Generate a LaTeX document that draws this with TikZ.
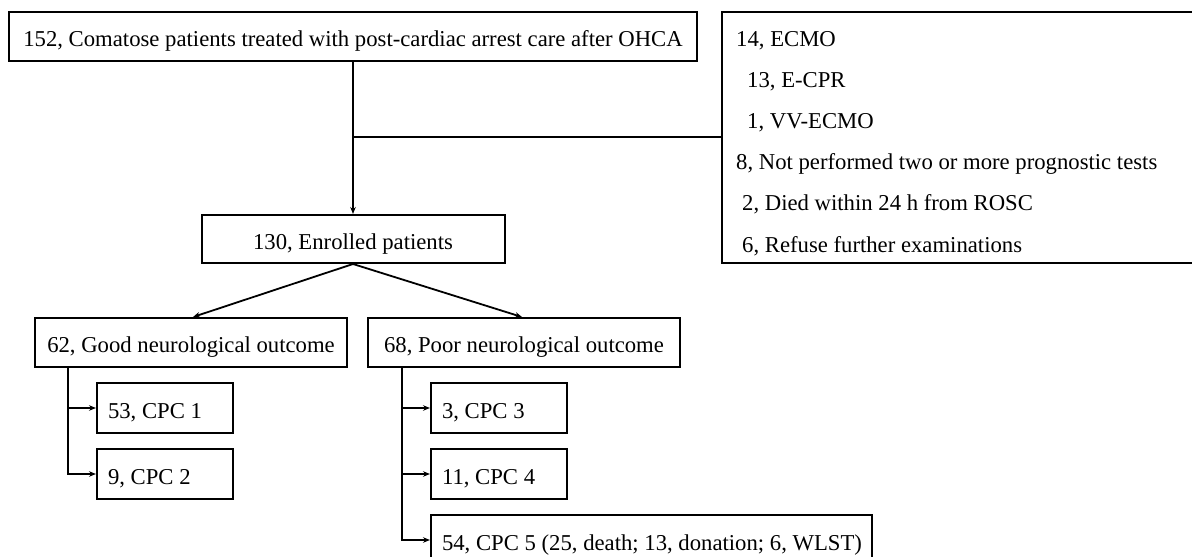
\documentclass[tikz,border=0pt]{standalone}
\usepackage{fontspec}
\setmainfont{Liberation Serif}
\usetikzlibrary{arrows.meta}
\begin{document}
\begin{tikzpicture}[x=1pt,y=-1pt,
  every node/.style={font=\fontsize{22.7}{27}\selectfont},
  box/.style={draw, line width=2pt, inner sep=0pt, text height=20pt, text depth=0pt},
  cpcbox/.style={box, inner xsep=11pt, minimum height=50pt},
  txt/.style={anchor=base west, inner sep=0pt},
  conn/.style={line width=1.8pt},
  arr/.style={conn, -{Stealth[length=7pt,width=5.5pt]}}]
\useasboundingbox (0,0) rectangle (1192,557);

\node[box, minimum width=688pt, minimum height=49pt] (top) at (353,36.5)
  {152, Comatose patients treated with post-cardiac arrest care after OHCA};
\node[box, minimum width=478pt, minimum height=251pt] (excl) at (961,137.5) {};
\node[txt] (e1) at (736,46) {14, ECMO};
\node[txt] (e2) at (747,87.2) {13, E-CPR};
\node[txt] (e3) at (747,128.4) {1, VV-ECMO};
\node[txt] (e4) at (736,169.6) {8, Not performed two or more prognostic tests};
\node[txt] (e5) at (742,210.8) {2, Died within 24 h from ROSC};
\node[txt] (e6) at (742,252) {6, Refuse further examinations};

\node[box, minimum width=303pt, minimum height=48pt] (enr) at (353,239) {130, Enrolled patients};
\node[box, minimum width=312pt, minimum height=49pt] (good) at (191,342.5) {62, Good neurological outcome};
\node[box, minimum width=312pt, minimum height=49pt] (poor) at (524,342.5) {68, Poor neurological outcome};

\node[cpcbox] (c1) at (165,408) {\makebox[114pt][l]{53, CPC 1}};
\node[cpcbox] (c2) at (165,474) {\makebox[114pt][l]{9, CPC 2}};
\node[cpcbox] (c3) at (499,408) {\makebox[114pt][l]{3, CPC 3}};
\node[cpcbox] (c4) at (499,474) {\makebox[114pt][l]{11, CPC 4}};
\node[cpcbox] (c5) at (651.5,540) {\makebox[419pt][l]{54, CPC 5 (25, death; 13, donation; 6, WLST)}};

\coordinate (j) at (353,137);
\draw[arr] (top.south) -- (enr.north);
\draw[conn] (j) -- (j -| excl.west);
\draw[arr] (enr.south) -- ([xshift=2pt]good.north);
\draw[arr] (enr.south) -- ([xshift=-2pt]poor.north);

\draw[arr] ([xshift=34pt]good.south west) |- (c1.west);
\draw[arr] ([xshift=34pt]good.south west) |- (c2.west);
\draw[arr] ([xshift=35pt]poor.south west) |- (c3.west);
\draw[arr] ([xshift=35pt]poor.south west) |- (c4.west);
\draw[arr] ([xshift=35pt]poor.south west) |- (c5.west);
\end{tikzpicture}
\end{document}
